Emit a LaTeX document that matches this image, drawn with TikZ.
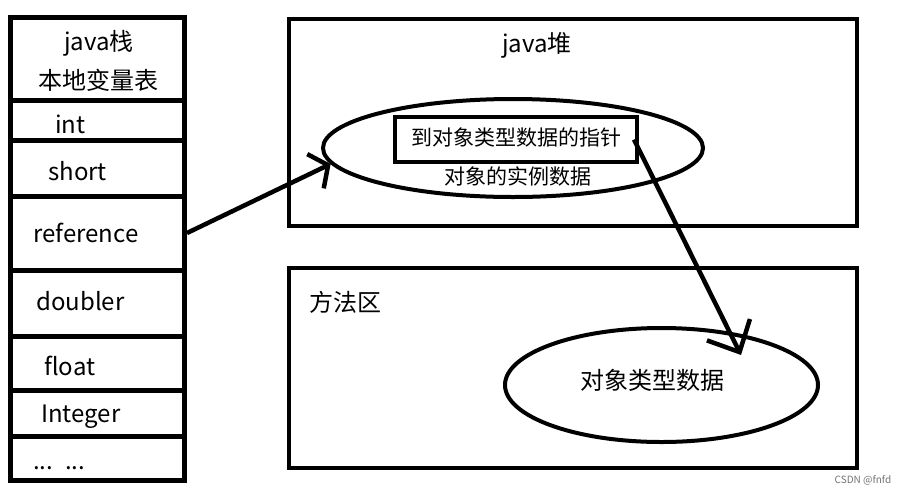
\documentclass[tikz,border=0pt]{standalone}
\usepackage{fontspec}
\setmainfont{Noto Sans CJK SC}
\usetikzlibrary{shapes.geometric,arrows.meta}
\begin{document}
\begin{tikzpicture}[x=1pt,y=-1pt,
  cell/.style={draw,line width=5pt,inner sep=0pt,minimum width=174pt},
  frame/.style={draw,line width=4.5pt,inner sep=0pt},
  oval/.style={draw,ellipse,line width=4pt,inner sep=0pt},
  lbl/.style={inner sep=0pt,font=\fontsize{24}{28}\selectfont},
  small/.style={inner sep=0pt,font=\fontsize{21}{25}\selectfont},
  conn/.style={line width=4.5pt}
]
\useasboundingbox (0,0) rectangle (915,496);
% stack cells
\node[cell,minimum height=83pt] (c0) at (97.5,58.5) {};
\node[cell,minimum height=40pt] (c1) at (97.5,120) {};
\node[cell,minimum height=56pt] (c2) at (97.5,168) {};
\node[cell,minimum height=74pt] (c3) at (97.5,233) {};
\node[cell,minimum height=66pt] (c4) at (97.5,303) {};
\node[cell,minimum height=54pt] (c5) at (97.5,363) {};
\node[cell,minimum height=46pt] (c6) at (97.5,413) {};
\node[cell,minimum height=44pt] (c7) at (97.5,458) {};
% stack texts
\node[lbl,anchor=base] (t0) at (99,50) {java栈};
\node[lbl,anchor=base] (t0b) at (98,89) {本地变量表};
\node[lbl,anchor=base west] (t1) at (55,133) {int};
\node[lbl,anchor=base west] (t2) at (48,180) {short};
\node[lbl,anchor=base west] (t3) at (33,242) {reference};
\node[lbl,anchor=base west] (t4) at (36,310) {doubler};
\node[lbl,anchor=base west] (t5) at (44,375) {float};
\node[lbl,anchor=base west] (t6) at (41,422) {Integer};
\node[lbl,anchor=base west] (t7) at (33,469) {...\enspace...};
% heap
\node[frame,minimum width=568pt,minimum height=207pt] (heap) at (573,122.5) {};
\node[lbl,anchor=base] (heapt) at (537,52) {java堆};
\node[oval,minimum width=380pt,minimum height=98pt] (obj) at (513,148) {};
\node[draw,line width=4pt,inner sep=0pt,minimum width=242pt,minimum height=45pt] (ptr) at (516,139.5) {};
\node[small] (ptrt) at (516,138) {到对象类型数据的指针};
\node[small] (objt) at (518,176) {对象的实例数据};
% method area
\node[frame,minimum width=568pt,minimum height=200pt] (meth) at (573,368) {};
\node[lbl,anchor=base west] (metht) at (309,311) {方法区};
\node[oval,minimum width=313pt,minimum height=114pt] (cls) at (661.5,385) {};
\node[lbl] (clst) at (652,380) {对象类型数据};
% arrows
\coordinate (tip2) at (741,355);
\draw[conn,-{Straight Barb[length=14pt,width=38pt]}] (c3.east) -- (obj.185);
\draw[conn,-{Straight Barb[length=25pt,width=48pt]}] ([xshift=-5pt]ptr.east) -- (tip2);
% watermark
\node[inner sep=0pt,font=\fontsize{10}{12}\selectfont,text=black!55] (wm) at (863,480) {CSDN @fnfd};
\end{tikzpicture}
\end{document}
